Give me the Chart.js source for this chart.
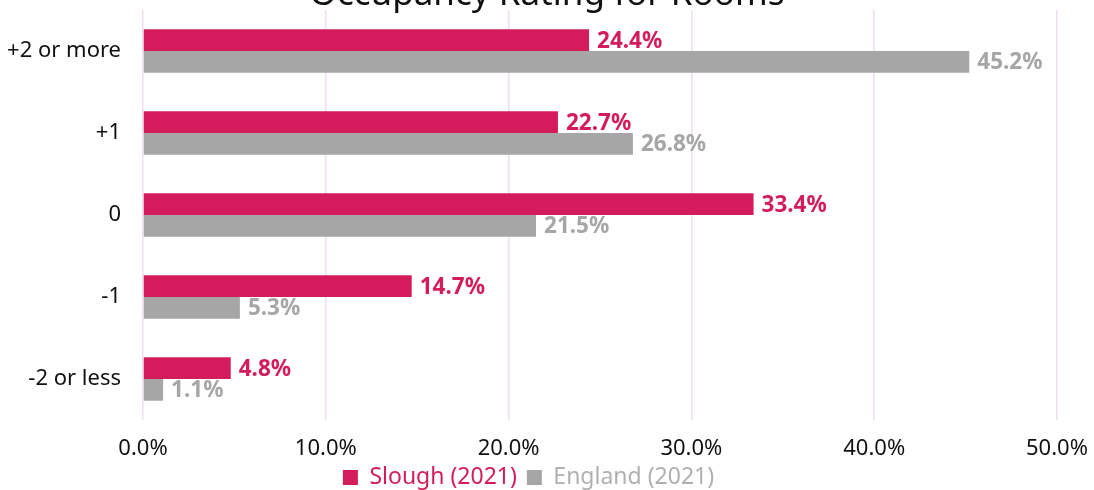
<!DOCTYPE html>
<html lang="en">
<head>
<meta charset="UTF-8">
<title>Occupancy Rating for Rooms</title>
<script src="https://cdn.jsdelivr.net/npm/chart.js"></script>
<style>
  html, body { margin: 0; padding: 0; background: #fff; }
  #wrap { width: 1094px; height: 490px; }
</style>
</head>
<body>
<div id="wrap"><canvas id="occChart" width="1094" height="490"></canvas></div>
<script>
const categories = ['+2 or more', '+1', '0', '-1', '-2 or less'];
const slough = [24.4, 22.7, 33.4, 14.7, 4.8];
const england = [45.2, 26.8, 21.5, 5.3, 1.1];
const seriesNames = ['Slough (2021)', 'England (2021)'];
const xTicks = [0, 10, 20, 30, 40, 50];

const FONT = '"Noto Sans", "Open Sans", sans-serif';
const PINK = '#D41C5C';
const GREY = '#A6A6A6';

// title sits partly above the canvas, like in the original export
const titlePlugin = {
    id: 'cutTitle',
    afterDraw(chart) {
        const ctx = chart.ctx;
        ctx.save();
        ctx.font = '35px ' + FONT;
        ctx.fillStyle = '#111';
        ctx.textAlign = 'center';
        ctx.textBaseline = 'alphabetic';
        ctx.fillText('Occupancy Rating for Rooms', 547, 5);
        ctx.restore();
    }
};

// value labels at the end of each bar
const valueLabels = {
    id: 'valueLabels',
    afterDatasetsDraw(chart) {
        const ctx = chart.ctx;
        ctx.save();
        ctx.font = 'bold 22.5px ' + FONT;
        ctx.textAlign = 'left';
        ctx.textBaseline = 'middle';
        chart.data.datasets.forEach((ds, i) => {
            chart.getDatasetMeta(i).data.forEach((bar, j) => {
                ctx.fillStyle = ds.backgroundColor;
                ctx.fillText(ds.data[j].toFixed(1) + '%', bar.x + 8, bar.y + 1);
            });
        });
        ctx.restore();
    }
};

new Chart(document.getElementById('occChart'), {
    type: 'bar',
    data: {
        labels: categories,
        datasets: [
            { label: seriesNames[0], data: slough, backgroundColor: PINK },
            { label: seriesNames[1], data: england, backgroundColor: GREY }
        ]
    },
    options: {
        indexAxis: 'y',
        responsive: false,
        animation: false,
        layout: { padding: { top: 10, right: 37, left: 0, bottom: -9 } },
        datasets: { bar: { categoryPercentage: 0.53, barPercentage: 1.0 } },
        scales: {
            x: {
                min: 0,
                max: 50,
                afterBuildTicks: (axis) => { axis.ticks = xTicks.map(v => ({ value: v })); },
                afterFit: (axis) => { axis.paddingLeft = 0; axis.paddingRight = 0; axis.height = 36; },
                grid: { color: '#EEDFEF', lineWidth: 1.5, drawTicks: false },
                border: { display: false },
                ticks: {
                    padding: 16,
                    color: '#111',
                    font: { family: FONT, size: 22 },
                    callback: v => v.toFixed(1) + '%'
                }
            },
            y: {
                grid: { display: false },
                border: { display: false },
                afterFit: (axis) => { axis.width = 143; axis.paddingTop = 0; axis.paddingBottom = 0; },
                ticks: {
                    padding: 14,
                    color: '#111',
                    font: { family: FONT, size: 22 }
                }
            }
        },
        plugins: {
            legend: {
                position: 'bottom',
                labels: {
                    boxWidth: 15,
                    boxHeight: 15,
                    padding: 10,
                    font: { family: FONT, size: 23 },
                    generateLabels(chart) {
                        return chart.data.datasets.map((ds, i) => ({
                            text: ds.label,
                            fillStyle: ds.backgroundColor,
                            strokeStyle: ds.backgroundColor,
                            lineWidth: 0,
                            fontColor: i === 0 ? PINK : '#B0B0B0',
                            datasetIndex: i
                        }));
                    }
                }
            },
            tooltip: { enabled: false }
        }
    },
    plugins: [titlePlugin, valueLabels]
});
</script>
</body>
</html>
